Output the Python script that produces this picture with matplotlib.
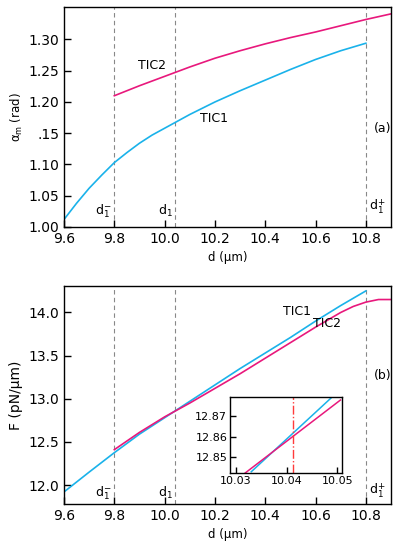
import numpy as np
import matplotlib
matplotlib.use("Agg")
import matplotlib.pyplot as plt

plt.rcParams['font.family'] = ['DejaVu Sans']
plt.rcParams['mathtext.default'] = 'regular'

# panel (a): alpha_m (rad) vs d (um)
d_a1 = np.array([9.6, 9.65, 9.7, 9.75, 9.8, 9.85, 9.9, 9.95, 10.0, 10.1, 10.2, 10.3, 10.4, 10.5, 10.6, 10.7, 10.8])
a_tic1 = np.array([1.012, 1.038, 1.062, 1.083, 1.103, 1.119, 1.134, 1.147, 1.158, 1.180, 1.200, 1.218, 1.235, 1.252, 1.268, 1.282, 1.294])
d_a2 = np.array([9.8, 9.9, 10.0, 10.1, 10.2, 10.3, 10.4, 10.5, 10.6, 10.7, 10.8, 10.9])
a_tic2 = np.array([1.210, 1.226, 1.241, 1.256, 1.270, 1.282, 1.293, 1.303, 1.312, 1.322, 1.332, 1.341])

# panel (b): F (pN/um) vs d (um)
d_b1 = np.array([9.6, 9.7, 9.8, 9.9, 10.0, 10.1, 10.2, 10.3, 10.4, 10.5, 10.6, 10.7, 10.8])
f_tic1 = np.array([11.92, 12.15, 12.375, 12.59, 12.78, 12.97, 13.16, 13.35, 13.53, 13.71, 13.90, 14.08, 14.25])
d_b2 = np.array([9.8, 9.9, 10.0, 10.1, 10.2, 10.3, 10.4, 10.5, 10.6, 10.7, 10.75, 10.8, 10.85, 10.9])
f_tic2 = np.array([12.41, 12.61, 12.79, 12.95, 13.12, 13.29, 13.47, 13.65, 13.83, 14.00, 14.07, 14.12, 14.15, 14.15])

# inset (zoom around crossing)
d_in1 = np.array([10.0330, 10.0488])
f_in1 = np.array([12.8431, 12.8787])
d_in2 = np.array([10.0318, 10.0506])
f_in2 = np.array([12.8425, 12.8776])
d_cross = 10.0412

# characteristic thicknesses
d_lines = [9.8, 10.041, 10.8]
d_names = ['$d_1^{-}$', '$d_1$', '$d_1^{+}$']

xticks = [9.6, 9.8, 10.0, 10.2, 10.4, 10.6, 10.8]
xticklabels = ['9.6', '9.8', '10.0', '10.2', '10.4', '10.6', '10.8']
a_ticks = [1.00, 1.05, 1.10, 1.15, 1.20, 1.25, 1.30]
a_ticklabels = ['1.00', '1.05', '1.10', '.15', '1.20', '1.25', '1.30']
f_ticks = [12.0, 12.5, 13.0, 13.5, 14.0]
f_ticklabels = ['12.0', '12.5', '13.0', '13.5', '14.0']

cyan = '#1ab2ea'
magenta = '#e8187c'

fig = plt.figure(figsize=(3.99, 5.5), dpi=100)
ax1 = fig.add_axes([0.1604, 0.5873, 0.8196, 0.4000])
ax2 = fig.add_axes([0.1604, 0.0836, 0.8196, 0.3969])


def style(ax):
    ax.tick_params(direction='in', length=5, width=1, labelsize=10, top=False, right=False)
    for s in ax.spines.values():
        s.set_linewidth(1)
    ax.set_xlim(9.6, 10.9)
    ax.set_xticks(xticks)
    ax.set_xticklabels(xticklabels)
    ax.set_xlabel('d (μm)', fontsize=8.5)


for ax in (ax1, ax2):
    style(ax)
    for xv in d_lines:
        ax.axvline(xv, color='#888888', lw=0.8, ls=(0, (4, 3)), zorder=1)

# panel (a)
ax1.plot(d_a1, a_tic1, color=cyan, lw=1.2)
ax1.plot(d_a2, a_tic2, color=magenta, lw=1.2)
ax1.set_ylim(1.0, 1.352)
ax1.set_yticks(a_ticks)
ax1.set_yticklabels(a_ticklabels)
ax1.set_ylabel('α$_m$ (rad)', fontsize=8.5, labelpad=2)
ax1.text(9.895, 1.259, 'TIC2', fontsize=9, ha='left', va='center')
ax1.text(10.14, 1.174, 'TIC1', fontsize=9, ha='left', va='center')
ax1.text(10.83, 1.158, '(a)', fontsize=9, ha='left', va='center')
for xv, nm, y in zip(d_lines, d_names, [1.025, 1.025, 1.032]):
    ax1.text(xv - 0.01 if xv < 10.5 else xv + 0.012, y, nm, fontsize=9,
             ha='right' if xv < 10.5 else 'left', va='center')

# panel (b)
ax2.plot(d_b1, f_tic1, color=cyan, lw=1.2)
ax2.plot(d_b2, f_tic2, color=magenta, lw=1.2)
ax2.set_ylim(11.78, 14.31)
ax2.set_yticks(f_ticks)
ax2.set_yticklabels(f_ticklabels)
ax2.set_ylabel('F (pN/μm)', fontsize=10, labelpad=4)
ax2.text(10.47, 14.01, 'TIC1', fontsize=9, ha='left', va='center')
ax2.text(10.59, 13.87, 'TIC2', fontsize=9, ha='left', va='center')
ax2.text(10.83, 13.27, '(b)', fontsize=9, ha='left', va='center')
for xv, nm, y in zip(d_lines, d_names, [11.91, 11.91, 11.93]):
    ax2.text(xv - 0.01 if xv < 10.5 else xv + 0.012, y, nm, fontsize=9,
             ha='right' if xv < 10.5 else 'left', va='center')

# inset
axi = fig.add_axes([0.5764, 0.14, 0.2807, 0.138])
axi.plot(d_in1, f_in1, color=cyan, lw=1.1)
axi.plot(d_in2, f_in2, color=magenta, lw=1.1)
axi.axvline(d_cross, color='#ff3b3b', lw=1.0, ls='-.')
axi.set_xlim(10.0288, 10.0509)
axi.set_ylim(12.8425, 12.879)
axi.set_xticks([10.03, 10.04, 10.05])
axi.set_xticklabels(['10.03', '10.04', '10.05'])
axi.set_yticks([12.85, 12.86, 12.87])
axi.set_yticklabels(['12.85', '12.86', '12.87'])
axi.tick_params(direction='in', length=4, width=1, labelsize=8, pad=2)
for s in axi.spines.values():
    s.set_linewidth(1)

fig.savefig('out.png', dpi=100)
